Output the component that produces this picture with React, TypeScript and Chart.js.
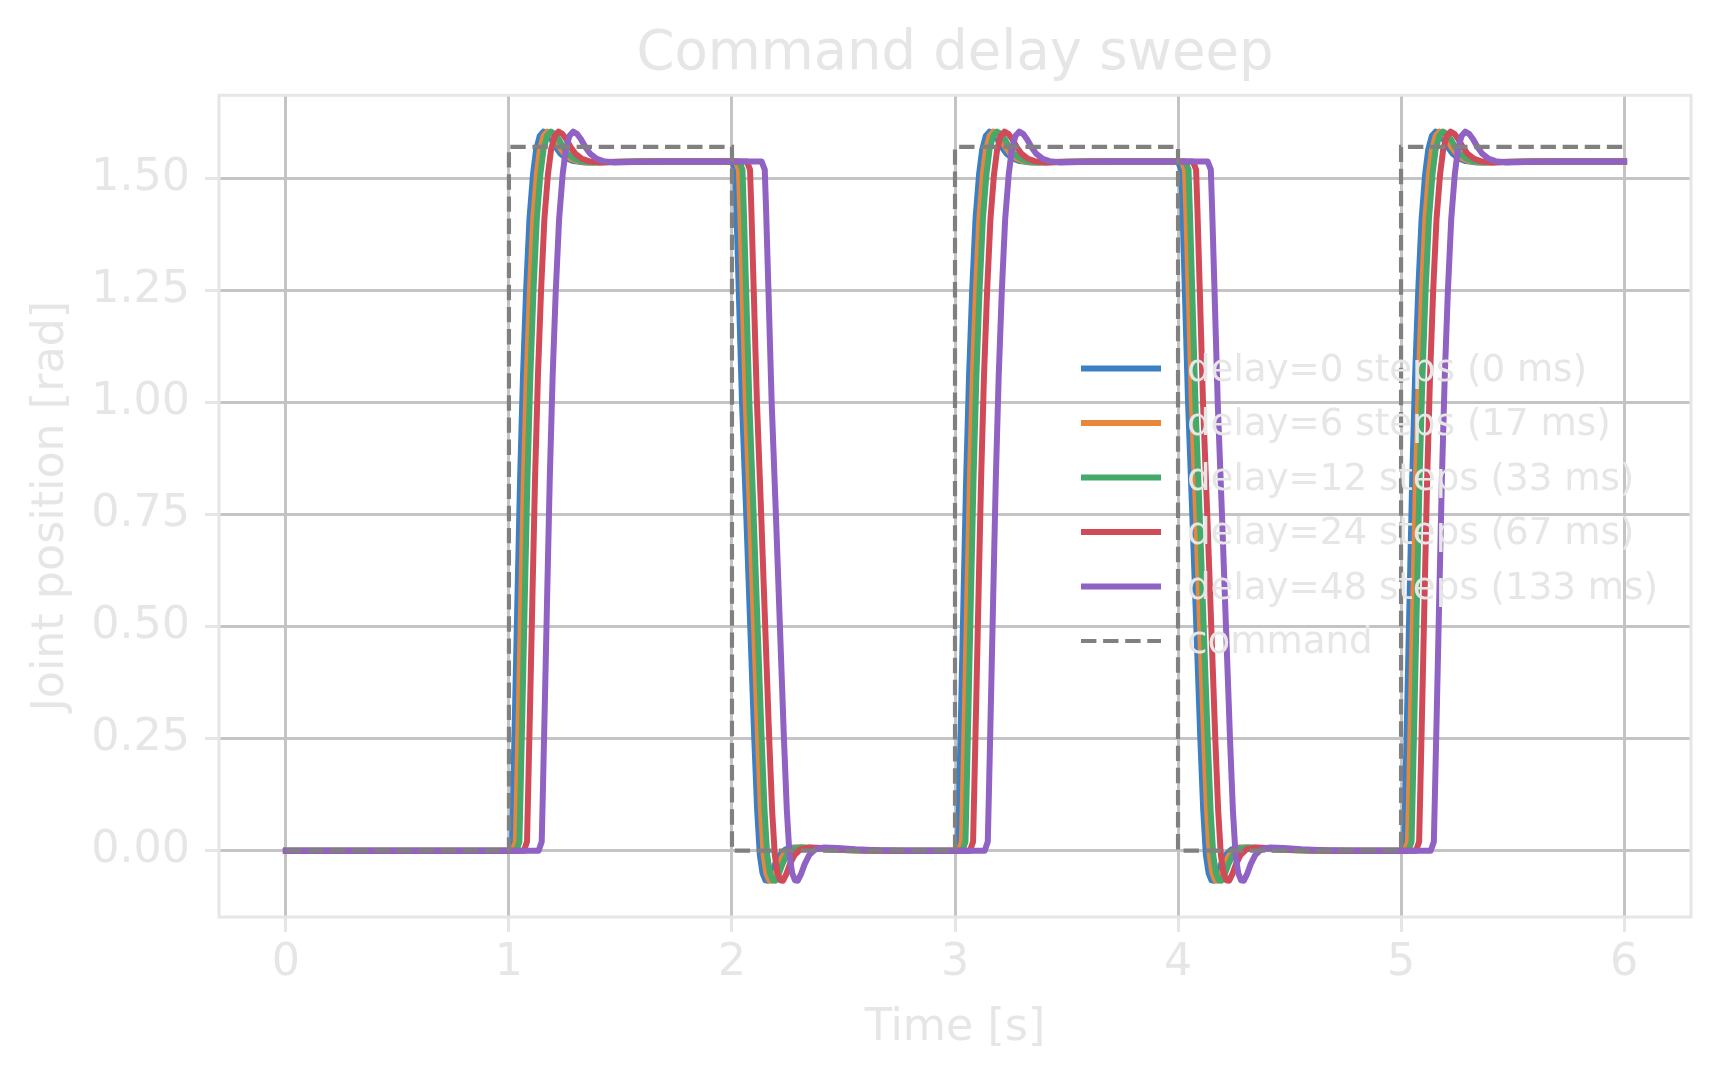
import React, { useEffect, useRef } from "react";
import { Chart, registerables } from "chart.js";

Chart.register(...registerables);

// ---- data ----
const seriesLabels = [
  "delay=0 steps (0 ms)",
  "delay=6 steps (17 ms)",
  "delay=12 steps (33 ms)",
  "delay=24 steps (67 ms)",
  "delay=48 steps (133 ms)",
];
const delaySeconds = [0, 0.017, 0.033, 0.067, 0.133];
const seriesColors = ["#3b80c5", "#e8873a", "#45a96b", "#d14a58", "#8f62c4"];

// command switches and which way each one goes
const switchTimes = [1, 2, 3, 4, 5];
const switchKinds = ["rise", "fall", "rise", "fall", "rise"];

// measured joint response after a step up (time since step, rad)
const riseOffsets = [
  0, 0.014, 0.02, 0.028, 0.038, 0.05, 0.063, 0.077, 0.092, 0.108, 0.122,
  0.138, 0.155, 0.172, 0.19, 0.21, 0.232, 0.258, 0.29, 0.34, 0.43, 0.56,
];
const riseValues = [
  0, 0.02, 0.15, 0.33, 0.56, 0.83, 1.06, 1.25, 1.41, 1.51, 1.565, 1.595,
  1.605, 1.6, 1.588, 1.57, 1.555, 1.545, 1.539, 1.536, 1.537, 1.538,
];

// measured joint response after a step down
const fallOffsets = [
  0, 0.014, 0.02, 0.03, 0.045, 0.064, 0.082, 0.1, 0.113, 0.125, 0.137, 0.15,
  0.162, 0.176, 0.193, 0.213, 0.24, 0.28, 0.34, 0.42, 0.52, 0.65,
];
const fallValues = [
  1.538, 1.52, 1.43, 1.26, 1.0, 0.75, 0.5, 0.25, 0.09, -0.01, -0.05, -0.066,
  -0.067, -0.053, -0.03, -0.01, 0.003, 0.007, 0.006, 0.003, 0.001, 0,
];

const startTime = 0;
const endTime = 6;
const holdLow = 0;
const holdHigh = 1.538;

const commandTimes = [0, 1, 1, 2, 2, 3, 3, 4, 4, 5, 5, 6];
const commandValues = [
  0, 0, 1.5708, 1.5708, 0, 0, 1.5708, 1.5708, 0, 0, 1.5708, 1.5708,
];

const xTicks = [0, 1, 2, 3, 4, 5, 6];
const yTicks = [0, 0.25, 0.5, 0.75, 1.0, 1.25, 1.5];

// ---- styling ----
const FONT = '"DejaVu Sans", "Noto Sans", sans-serif';
const TEXT = "#e6e6e6";
const GRID = "#c4c4c4";
const FRAME = "#e6e6e6";
const COMMAND_COLOR = "#808080";
const COMMAND_DASH = [15.4, 6.7];
const SERIES_WIDTH = 6;
const COMMAND_WIDTH = 4.2;

function buildSeries(delay: number) {
  const pts: { x: number; y: number }[] = [{ x: startTime, y: holdLow }];
  switchTimes.forEach((t, i) => {
    const rise = switchKinds[i] === "rise";
    const offs = rise ? riseOffsets : fallOffsets;
    const vals = rise ? riseValues : fallValues;
    offs.forEach((o, k) => pts.push({ x: t + delay + o, y: vals[k] }));
  });
  pts.push({ x: endTime, y: holdHigh });
  return pts;
}

const framePlugin = {
  id: "frame",
  afterDatasetsDraw(chart: any) {
    const { ctx, chartArea } = chart;
    ctx.save();
    ctx.strokeStyle = FRAME;
    ctx.lineWidth = 3;
    ctx.strokeRect(
      chartArea.left,
      chartArea.top,
      chartArea.right - chartArea.left,
      chartArea.bottom - chartArea.top
    );
    ctx.restore();
  },
};

const legendPlugin = {
  id: "innerLegend",
  afterDraw(chart: any) {
    const { ctx } = chart;
    const entries = seriesLabels.map((label, i) => ({
      label,
      color: seriesColors[i],
      dash: [] as number[],
      width: SERIES_WIDTH,
    }));
    entries.push({
      label: "command",
      color: COMMAND_COLOR,
      dash: COMMAND_DASH,
      width: COMMAND_WIDTH,
    });
    const x0 = 1081;
    const y0 = 368.5;
    const step = 54.5;
    ctx.save();
    entries.forEach((e, i) => {
      const y = y0 + i * step;
      ctx.beginPath();
      ctx.setLineDash(e.dash);
      ctx.lineWidth = e.width;
      ctx.strokeStyle = e.color;
      ctx.lineCap = "butt";
      ctx.moveTo(x0, y);
      ctx.lineTo(x0 + 80, y);
      ctx.stroke();
      ctx.setLineDash([]);
      ctx.fillStyle = TEXT;
      ctx.font = `37.2px ${FONT}`;
      ctx.textAlign = "left";
      ctx.textBaseline = "alphabetic";
      ctx.fillText(e.label, x0 + 106, y + 12);
    });
    ctx.restore();
  },
};

export default function App() {
  const canvasRef = useRef<HTMLCanvasElement>(null);

  useEffect(() => {
    document.body.style.margin = "0";
    const canvas = canvasRef.current;
    if (!canvas) return;

    const datasets: any[] = seriesLabels.map((label, i) => ({
      label,
      data: buildSeries(delaySeconds[i]),
      borderColor: seriesColors[i],
      borderWidth: SERIES_WIDTH,
      borderJoinStyle: "round",
      borderCapStyle: "square",
      pointRadius: 0,
      tension: 0,
      fill: false,
      order: seriesLabels.length - i,
    }));
    datasets.push({
      label: "command",
      data: commandTimes.map((t, i) => ({ x: t, y: commandValues[i] })),
      borderColor: COMMAND_COLOR,
      borderWidth: COMMAND_WIDTH,
      borderDash: COMMAND_DASH,
      borderCapStyle: "butt",
      pointRadius: 0,
      tension: 0,
      fill: false,
      order: 0,
    });

    const chart = new Chart(canvas, {
      type: "line",
      data: { datasets },
      options: {
        animation: false,
        responsive: false,
        layout: { padding: { left: 0, right: 29, top: 0, bottom: 0 } },
        plugins: {
          legend: { display: false },
          tooltip: { enabled: false },
          title: {
            display: true,
            text: "Command delay sweep",
            color: TEXT,
            fullSize: false,
            font: { family: FONT, size: 54.4, weight: "normal" },
            padding: { top: 22, bottom: 8 },
          },
        },
        scales: {
          x: {
            type: "linear",
            min: -0.3,
            max: 6.3,
            afterBuildTicks: (axis: any) => {
              axis.ticks = xTicks.map((value) => ({ value }));
            },
            afterFit: (axis: any) => {
              axis.height = 163;
            },
            grid: {
              color: GRID,
              lineWidth: 3,
              tickColor: FRAME,
              tickWidth: 3,
              tickLength: 15,
            },
            border: { display: false },
            ticks: {
              color: TEXT,
              padding: 5,
              maxRotation: 0,
              autoSkip: false,
              font: { family: FONT, size: 44.4 },
              callback: (v: any) => String(v),
            },
            title: {
              display: true,
              text: "Time [s]",
              color: TEXT,
              font: { family: FONT, size: 44.4 },
              padding: { top: 0, bottom: 25 },
            },
          },
          y: {
            type: "linear",
            min: -0.148,
            max: 1.686,
            afterBuildTicks: (axis: any) => {
              axis.ticks = yTicks.map((value) => ({ value }));
            },
            afterFit: (axis: any) => {
              axis.width = 219;
            },
            grid: {
              color: GRID,
              lineWidth: 3,
              tickColor: FRAME,
              tickWidth: 3,
              tickLength: 14,
            },
            border: { display: false },
            ticks: {
              color: TEXT,
              padding: 15,
              autoSkip: false,
              font: { family: FONT, size: 44.4 },
              callback: (v: any) => Number(v).toFixed(2),
            },
            title: {
              display: true,
              text: "Joint position [rad]",
              color: TEXT,
              font: { family: FONT, size: 44.4 },
              padding: { top: 25, bottom: 0 },
            },
          },
        },
      },
      plugins: [framePlugin, legendPlugin],
    });

    return () => chart.destroy();
  }, []);

  return (
    <div style={{ width: 1720, height: 1080, background: "#ffffff" }}>
      <canvas
        ref={canvasRef}
        width={1720}
        height={1080}
        style={{ display: "block", width: 1720, height: 1080 }}
      />
    </div>
  );
}
